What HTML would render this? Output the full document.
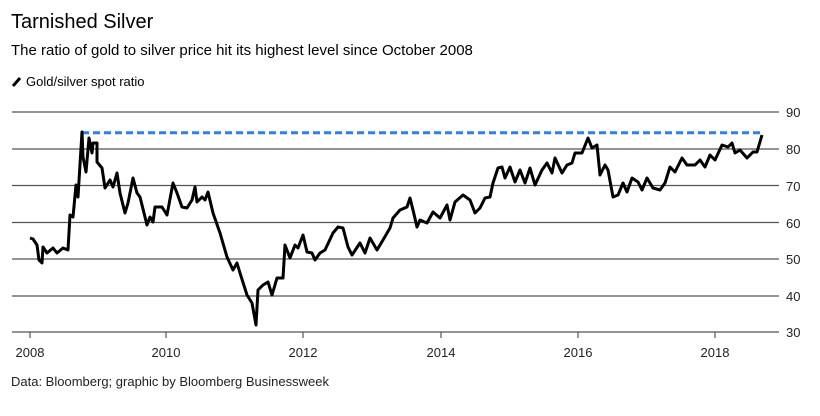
<!DOCTYPE html>
<html><head><style>
body{margin:0;background:#fff;width:820px;height:411px;overflow:hidden;font-family:"Liberation Sans",Arial,sans-serif;color:#000}
</style></head><body>
<svg width="820" height="411" xmlns="http://www.w3.org/2000/svg" font-family="Liberation Sans, Arial, sans-serif">
<text x="11" y="28" font-size="20">Tarnished Silver</text>
<text x="11" y="55" font-size="15">The ratio of gold to silver price hit its highest level since October 2008</text>
<line x1="13" y1="86" x2="20" y2="78" stroke="#000" stroke-width="3"/>
<text x="26" y="86" font-size="13">Gold/silver spot ratio</text>
<g stroke="#555" stroke-width="1.2">
<line x1="12" y1="112" x2="779" y2="112"/><line x1="12" y1="149" x2="779" y2="149"/>
<line x1="12" y1="185.5" x2="779" y2="185.5"/><line x1="12" y1="222.5" x2="779" y2="222.5"/>
<line x1="12" y1="259" x2="779" y2="259"/><line x1="12" y1="296" x2="779" y2="296"/>
<line x1="12" y1="332" x2="779" y2="332"/>
<line x1="30" y1="332" x2="30" y2="338"/><line x1="166" y1="332" x2="166" y2="338"/>
<line x1="303" y1="332" x2="303" y2="338"/><line x1="441" y1="332" x2="441" y2="338"/>
<line x1="578" y1="332" x2="578" y2="338"/><line x1="715" y1="332" x2="715" y2="338"/>
</g>
<g font-size="13" fill="#222">
<text x="786" y="117">90</text><text x="786" y="154">80</text><text x="786" y="191">70</text>
<text x="786" y="228">60</text><text x="786" y="264">50</text><text x="786" y="301">40</text><text x="786" y="337">30</text>
<g text-anchor="middle"><text x="30" y="357">2008</text><text x="166" y="357">2010</text><text x="303" y="357">2012</text><text x="441" y="357">2014</text><text x="578" y="357">2016</text><text x="715" y="357">2018</text></g>
</g>
<line x1="82" y1="132.7" x2="762" y2="132.7" stroke="#2f80e6" stroke-width="3" stroke-dasharray="7,4"/>
<polyline fill="none" stroke="#000" stroke-width="3" stroke-linejoin="round" points="30,238 33,239 37,245 39,260 42,263 43,247 47,253 53,248 57,253 63,248 68,250 70,215 73,217 76,185 78,197 82,132 83,157 86,172 89,138 92,153 93,143 97,143 97,162 102,168 105,188 110,180 113,187 117,173 120,193 125,213 128,203 133,178 137,193 140,197 147,225 150,217 153,222 155,207 162,207 167,215 173,183 177,193 182,207 187,208 192,200 195,187 197,202 202,197 205,200 208,192 213,213 220,233 227,257 233,270 237,263 240,273 247,295 252,303 256,325 258,290 263,285 268,282 272,295 277,278 283,278 285,245 290,258 295,245 298,248 303,235 307,252 312,253 315,260 320,253 325,250 333,233 338,227 343,228 348,247 352,255 360,243 365,253 370,238 377,250 383,240 390,228 393,218 400,210 407,207 410,198 413,210 417,227 420,220 427,223 433,212 440,218 447,205 450,220 455,202 463,195 470,200 475,213 480,208 485,198 490,197 493,183 498,168 502,167 505,178 510,167 515,182 520,170 525,183 530,168 535,185 542,170 547,163 552,173 555,158 562,173 567,165 572,163 575,153 582,153 588,138 592,148 597,145 600,175 605,165 608,170 613,197 618,195 623,183 627,192 632,178 638,182 642,190 647,178 653,188 660,190 665,183 670,167 675,172 682,158 687,165 695,165 700,160 705,167 710,155 715,160 722,145 728,147 732,143 735,153 740,150 747,158 753,152 757,152 762,135"/>
<text x="11" y="386" font-size="13" fill="#222">Data: Bloomberg; graphic by Bloomberg Businessweek</text>
</svg>
</body></html>
